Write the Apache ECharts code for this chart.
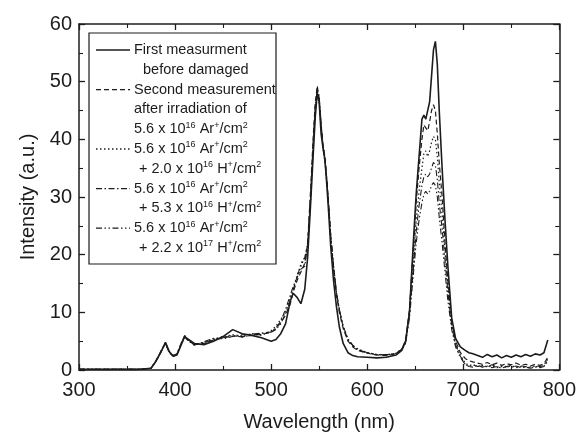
<!DOCTYPE html>
<html>
<head>
<meta charset="utf-8">
<script src="https://cdn.jsdelivr.net/npm/echarts@6/dist/echarts.min.js"></script>
<style>
html,body{margin:0;padding:0;background:#fff;}
#chart{width:579px;height:437px;}
</style>
</head>
<body>
<div id="chart"></div>
<script>
// Wavelength (nm) sample positions shared by every series
const wavelength = [
  300, 320, 340, 360, 375, 380, 385, 390, 394, 398,
  402, 406, 410, 414, 420, 430, 440, 450, 460, 470,
  480, 490, 500, 505, 510, 515, 520, 523, 527, 531,
  535, 538, 541, 544, 546, 548, 550, 552, 554, 556,
  558, 560, 562, 565, 568, 571, 575, 580, 585, 590,
  600, 610, 620, 630, 636, 640, 644, 648, 651, 654,
  657, 659, 661, 663, 665, 667, 669, 671, 673, 675,
  678, 681, 684, 688, 692, 697, 702, 706, 710, 715,
  720, 725, 730, 735, 740, 745, 750, 755, 760, 765,
  770, 775, 780, 784, 788
];

// First measurement before damaged (solid)
const firstMeasurement = [
  0.1, 0.1, 0.1, 0.1, 0.3, 1.5, 3.0, 4.8, 3.2, 2.4,
  2.6, 4.2, 5.8, 5.3, 4.6, 4.4, 5.0, 5.8, 7.0, 6.3,
  6.0, 5.6, 5.0, 5.3, 6.3, 8.0, 12.0, 13.3, 12.6, 11.5,
  14.0, 19.5, 28.5, 38.0, 44.0, 48.0, 46.5, 41.0, 38.5, 36.5,
  32.0, 27.0, 21.5, 15.5, 11.0, 7.5, 4.6, 3.0, 2.5, 2.3,
  2.2, 2.1, 2.2, 2.6, 3.4, 5.0, 10.0, 22.0, 30.5, 37.0,
  43.5, 44.2, 43.5, 43.5, 46.5, 51.0, 55.5, 57.0, 53.0, 45.0,
  35.0, 26.0, 18.0, 9.0, 5.5, 4.0, 3.4, 3.0, 2.8, 2.5,
  2.2, 2.7, 2.3, 2.6, 2.1, 2.5, 2.2, 2.6, 2.3, 2.7,
  2.4, 2.8, 2.6, 3.0, 5.2
];

// Second measurement after irradiation of 5.6e16 Ar+/cm2 (dashed)
const secondMeasurement = [
  0.1, 0.1, 0.1, 0.1, 0.3, 1.6, 3.2, 4.6, 3.0, 2.5,
  2.8, 4.5, 6.0, 5.2, 4.5, 4.6, 5.2, 5.6, 5.9, 5.8,
  6.0, 6.2, 6.5, 7.2, 8.2, 9.5, 11.5, 13.5, 15.5, 17.0,
  18.5, 22.0, 31.0, 41.0, 46.5, 49.3, 47.0, 42.5, 39.0, 37.0,
  33.0, 28.5, 23.0, 17.5, 13.0, 10.0, 7.2, 5.0, 4.0, 3.4,
  2.9, 2.6, 2.5, 2.8, 3.6, 5.2, 10.5, 21.0, 29.0, 35.0,
  40.0, 42.5, 42.0, 41.5, 43.0, 45.0, 46.0, 45.0, 41.0, 36.0,
  30.0, 22.0, 15.5, 8.5, 5.0, 3.0, 2.0, 1.6, 1.4, 1.2,
  1.0, 1.3, 0.9, 1.2, 0.8, 1.1, 0.9, 1.2, 0.8, 1.0,
  0.7, 1.0, 0.8, 1.1, 2.2
];

// + 2.0e16 H+/cm2 (dotted)
const h20e16 = [
  0.1, 0.1, 0.1, 0.1, 0.3, 1.5, 3.1, 4.7, 3.1, 2.5,
  2.7, 4.4, 5.8, 5.1, 4.4, 4.8, 5.4, 5.8, 6.1, 5.9,
  6.3, 6.0, 6.8, 7.6, 8.8, 10.0, 12.5, 14.0, 16.5, 18.0,
  19.5, 21.0, 29.0, 39.0, 45.0, 48.0, 46.5, 42.0, 38.5, 36.0,
  32.5, 28.0, 23.0, 17.5, 13.5, 10.5, 7.5, 5.2, 4.2, 3.6,
  3.0, 2.7, 2.6, 2.9, 3.7, 5.0, 10.0, 19.0, 26.0, 31.0,
  35.0, 37.5, 38.0, 37.0, 38.0, 39.5, 40.5, 40.0, 37.0, 32.5,
  27.0, 20.5, 14.5, 8.0, 4.6, 2.6, 1.2, 0.8, 0.9, 0.6,
  0.8, 0.5, 0.7, 0.4, 0.6, 0.5, 0.7, 0.4, 0.6, 0.5,
  0.4, 0.6, 0.5, 0.7, 1.8
];

// + 5.3e16 H+/cm2 (dash-dot)
const h53e16 = [
  0.1, 0.1, 0.1, 0.1, 0.3, 1.5, 3.0, 4.6, 3.0, 2.4,
  2.7, 4.3, 5.7, 5.0, 4.3, 4.9, 5.5, 5.4, 5.8, 6.1,
  6.2, 6.4, 6.6, 7.3, 8.5, 10.5, 13.0, 14.5, 16.0, 17.5,
  18.0, 21.5, 30.0, 40.0, 45.5, 48.5, 47.0, 42.5, 39.0, 36.5,
  33.0, 28.5, 23.5, 18.0, 13.5, 10.5, 7.4, 5.3, 4.2, 3.5,
  3.0, 2.6, 2.7, 2.8, 3.6, 4.8, 9.5, 17.5, 24.0, 28.5,
  32.0, 33.5, 34.0, 33.5, 34.0, 35.0, 36.0, 35.5, 33.0, 29.0,
  24.5, 19.0, 13.5, 7.6, 4.4, 2.4, 1.0, 0.6, 0.5, 0.8,
  0.5, 0.7, 0.4, 0.6, 0.3, 0.6, 0.4, 0.7, 0.4, 0.5,
  0.3, 0.5, 0.4, 0.6, 1.5
];

// + 2.2e17 H+/cm2 (dash-dot-dot)
const h22e17 = [
  0.1, 0.1, 0.1, 0.1, 0.3, 1.5, 3.1, 4.7, 3.1, 2.5,
  2.8, 4.4, 5.9, 5.1, 4.4, 4.7, 5.3, 5.6, 6.0, 5.7,
  6.1, 6.3, 6.6, 7.0, 8.0, 9.8, 12.0, 14.0, 16.0, 18.5,
  19.5, 22.0, 30.0, 40.0, 46.0, 48.8, 47.5, 43.0, 39.0, 36.5,
  33.0, 28.5, 23.5, 18.0, 13.5, 10.5, 7.6, 5.4, 4.3, 3.7,
  3.0, 2.7, 2.6, 2.9, 3.5, 4.6, 9.0, 16.5, 22.0, 26.0,
  29.0, 30.5, 31.0, 30.5, 31.0, 32.0, 32.5, 32.0, 30.0, 26.5,
  22.0, 17.0, 12.0, 7.0, 4.0, 2.2, 0.9, 0.7, 0.9, 0.6,
  0.8, 0.6, 0.9, 0.5, 0.7, 0.6, 0.8, 0.5, 0.7, 0.6,
  0.5, 0.7, 0.6, 0.8, 1.9
];

const xTicks = [300, 400, 500, 600, 700, 800];
const yTicks = [0, 10, 20, 30, 40, 50, 60];

const INK = '#1c1c1c';
const FONT = '"Liberation Sans", Arial, sans-serif';

const seriesDefs = [
  { name: 'h22e17', values: h22e17, dash: [6, 2.5, 1.5, 2.5, 1.5, 2.5], width: 1.1 },
  { name: 'h53e16', values: h53e16, dash: [6, 2.5, 1.5, 2.5], width: 1.1 },
  { name: 'h20e16', values: h20e16, dash: [1.5, 2.5], width: 1.2 },
  { name: 'second', values: secondMeasurement, dash: [5, 3], width: 1.2 },
  { name: 'first', values: firstMeasurement, dash: 'solid', width: 1.6 }
];

const chart = echarts.init(document.getElementById('chart'), null, { renderer: 'canvas' });

function axisCommon(min, max, interval) {
  return {
    type: 'value', min: min, max: max, interval: interval,
    axisLine: { show: true, onZero: false, lineStyle: { color: INK, width: 1.5 } },
    axisTick: { show: true, inside: true, length: 6, lineStyle: { color: INK, width: 1.3 } },
    minorTick: { show: true, splitNumber: 2, length: 4, lineStyle: { color: INK, width: 1.1 } },
    splitLine: { show: false },
    minorSplitLine: { show: false }
  };
}

// legend rows drawn as graphic text
const sup = { fontSize: 9, verticalAlign: 'top', fill: INK, fontFamily: FONT, lineHeight: 17 };
const nrm = { fontSize: 14.5, fill: INK, fontFamily: FONT, lineHeight: 17 };
const legendRows = [
  { text: 'First measurment', indent: 0, dash: 'solid' },
  { text: 'before damaged', indent: 9 },
  { text: 'Second measurement', indent: 0, dash: [5, 3] },
  { text: 'after irradiation of', indent: 0 },
  { text: '5.6 x 10{s|16} Ar{s|+}/cm{s|2}', indent: 0 },
  { text: '5.6 x 10{s|16} Ar{s|+}/cm{s|2}', indent: 0, dash: [1.5, 2.5] },
  { text: '+ 2.0 x 10{s|16} H{s|+}/cm{s|2}', indent: 5 },
  { text: '5.6 x 10{s|16} Ar{s|+}/cm{s|2}', indent: 0, dash: [6, 2.5, 1.5, 2.5] },
  { text: '+ 5.3 x 10{s|16} H{s|+}/cm{s|2}', indent: 5 },
  { text: '5.6 x 10{s|16} Ar{s|+}/cm{s|2}', indent: 0, dash: [6, 2.5, 1.5, 2.5, 1.5, 2.5] },
  { text: '+ 2.2 x 10{s|17} H{s|+}/cm{s|2}', indent: 5 }
];

const boxLeft = 89, boxTop = 33, boxW = 187, boxH = 231;
const rowTop = 50, rowStep = 19.8, textX = 134, lineX1 = 96, lineX2 = 130;
const graphics = [{
  type: 'rect', z: 100,
  shape: { x: boxLeft, y: boxTop, width: boxW, height: boxH },
  style: { fill: '#fff', stroke: INK, lineWidth: 1.2 }
}];
legendRows.forEach(function (r, i) {
  const cy = rowTop + i * rowStep;
  if (r.dash) {
    graphics.push({
      type: 'line', z: 101,
      shape: { x1: lineX1, y1: cy, x2: lineX2, y2: cy },
      style: { stroke: INK, lineWidth: r.dash === 'solid' ? 1.6 : 1.3, lineDash: r.dash === 'solid' ? null : r.dash }
    });
  }
  graphics.push({
    type: 'text', z: 101,
    style: {
      x: textX + r.indent, y: cy, text: r.text, verticalAlign: 'middle',
      fontSize: 14.5, fontFamily: FONT, fill: INK,
      rich: { s: sup, n: nrm }
    }
  });
});

const option = {
  animation: false,
  backgroundColor: '#fff',
  grid: { left: 79, right: 18, top: 24, bottom: 65 },
  xAxis: [
    Object.assign(axisCommon(xTicks[0], xTicks[xTicks.length - 1], 100), {
      position: 'bottom',
      axisLabel: { show: true, fontSize: 20, color: INK, fontFamily: FONT, margin: 10 },
      name: 'Wavelength (nm)', nameLocation: 'middle', nameGap: 42,
      nameTextStyle: { fontSize: 20, color: INK, fontFamily: FONT }
    }),
    Object.assign(axisCommon(xTicks[0], xTicks[xTicks.length - 1], 100), {
      position: 'top', axisLabel: { show: false }
    })
  ],
  yAxis: [
    Object.assign(axisCommon(yTicks[0], yTicks[yTicks.length - 1], 10), {
      position: 'left',
      axisLabel: { show: true, fontSize: 20, color: INK, fontFamily: FONT, margin: 7 },
      name: 'Intensity (a.u.)', nameLocation: 'middle', nameGap: 41,
      nameTextStyle: { fontSize: 20, color: INK, fontFamily: FONT }
    }),
    Object.assign(axisCommon(yTicks[0], yTicks[yTicks.length - 1], 10), {
      position: 'right', axisLabel: { show: false }
    })
  ],
  series: seriesDefs.map(function (s) {
    return {
      name: s.name, type: 'line', xAxisIndex: 0, yAxisIndex: 0,
      showSymbol: false, symbol: 'none', smooth: false,
      data: wavelength.map(function (w, i) { return [w, s.values[i]]; }),
      lineStyle: { color: INK, width: s.width, type: s.dash },
      itemStyle: { color: INK },
      emphasis: { disabled: true }
    };
  }),
  graphic: graphics
};
chart.setOption(option);
</script>
</body>
</html>
